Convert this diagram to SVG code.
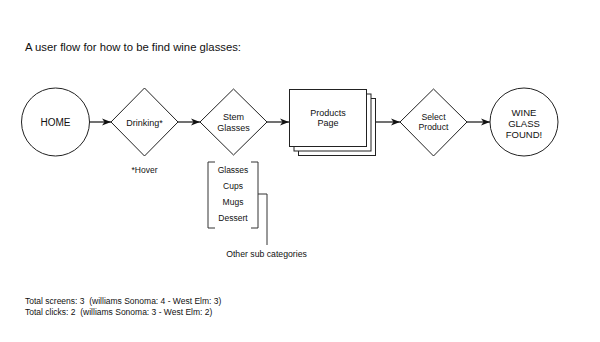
<svg xmlns="http://www.w3.org/2000/svg" width="600" height="342" viewBox="0 0 600 342">
<style>
text{font-family:"Liberation Sans",Arial,sans-serif;fill:#111;}
.n{fill:#fff;stroke:#222;stroke-width:1;}
.c{fill:none;stroke:#111;stroke-width:1.2;}
.b{fill:none;stroke:#333;stroke-width:1;}
.m{text-anchor:middle;}
</style>
<defs>
<marker id="ah" markerUnits="userSpaceOnUse" markerWidth="10" markerHeight="8" refX="9" refY="4" orient="auto">
<path d="M0,0.5 L9,4 L0,7.5 L2.5,4 z" fill="#111"/>
</marker>
</defs>
<rect width="600" height="342" fill="#fff"/>
<text x="25" y="51" font-size="11.3">A user flow for how to be find wine glasses:</text>
<g id="connectors">
<line class="c" x1="89" y1="122" x2="111" y2="122" marker-end="url(#ah)"/>
<line class="c" x1="178" y1="122" x2="200" y2="122" marker-end="url(#ah)"/>
<line class="c" x1="267" y1="122" x2="289" y2="122" marker-end="url(#ah)"/>
<line class="c" x1="375" y1="122" x2="400" y2="122" marker-end="url(#ah)"/>
<line class="c" x1="467" y1="122" x2="490" y2="122" marker-end="url(#ah)"/>
<polyline class="b" points="258,194 267,194 267,245"/>
</g>
<g id="home">
<circle class="n" cx="55.5" cy="122" r="34"/>
<text class="m" x="55.5" y="126" font-size="10">HOME</text>
</g>
<g id="drinking">
<polygon class="n" points="144.5,88 178,122 144.5,156 111,122"/>
<text class="m" x="144.5" y="125.5" font-size="9">Drinking*</text>
</g>
<text class="m" x="144.5" y="173" font-size="8.5">*Hover</text>
<g id="stem">
<polygon class="n" points="233.5,89 267,122 233.5,155 200,122"/>
<text class="m" x="233.5" y="120" font-size="9">Stem</text>
<text class="m" x="233.5" y="130.5" font-size="9">Glasses</text>
</g>
<g id="subcats">
<polyline class="b" points="215,162 208,162 208,228 215,228"/>
<polyline class="b" points="251,162 258,162 258,228 251,228"/>
<text class="m" x="233" y="173" font-size="8.5">Glasses</text>
<text class="m" x="233" y="189" font-size="8.5">Cups</text>
<text class="m" x="233" y="205" font-size="8.5">Mugs</text>
<text class="m" x="233" y="221" font-size="8.5">Dessert</text>
</g>
<text class="m" x="266.5" y="257" font-size="8.7">Other sub categories</text>
<g id="products">
<rect class="n" x="298.5" y="98.5" width="77" height="57"/>
<rect class="n" x="294" y="94" width="77" height="57"/>
<rect class="n" x="289.5" y="89.5" width="77" height="57"/>
<text class="m" x="328" y="116" font-size="9">Products</text>
<text class="m" x="328" y="126" font-size="9">Page</text>
</g>
<g id="select">
<polygon class="n" points="433.5,89 467,122 433.5,156 400,122"/>
<text class="m" x="433.5" y="120" font-size="8.7">Select</text>
<text class="m" x="433.5" y="130" font-size="8.7">Product</text>
</g>
<g id="found">
<circle class="n" cx="524" cy="122" r="34"/>
<text class="m" x="524" y="115.5" font-size="9.5">WINE</text>
<text class="m" x="524" y="126.5" font-size="9.5">GLASS</text>
<text class="m" x="524" y="137.5" font-size="9.5">FOUND!</text>
</g>
<text x="25" y="304" font-size="8.5" xml:space="preserve">Total screens: 3  (williams Sonoma: 4 - West Elm: 3)</text>
<text x="25" y="315" font-size="8.5" xml:space="preserve">Total clicks: 2  (williams Sonoma: 3 - West Elm: 2)</text>
</svg>
